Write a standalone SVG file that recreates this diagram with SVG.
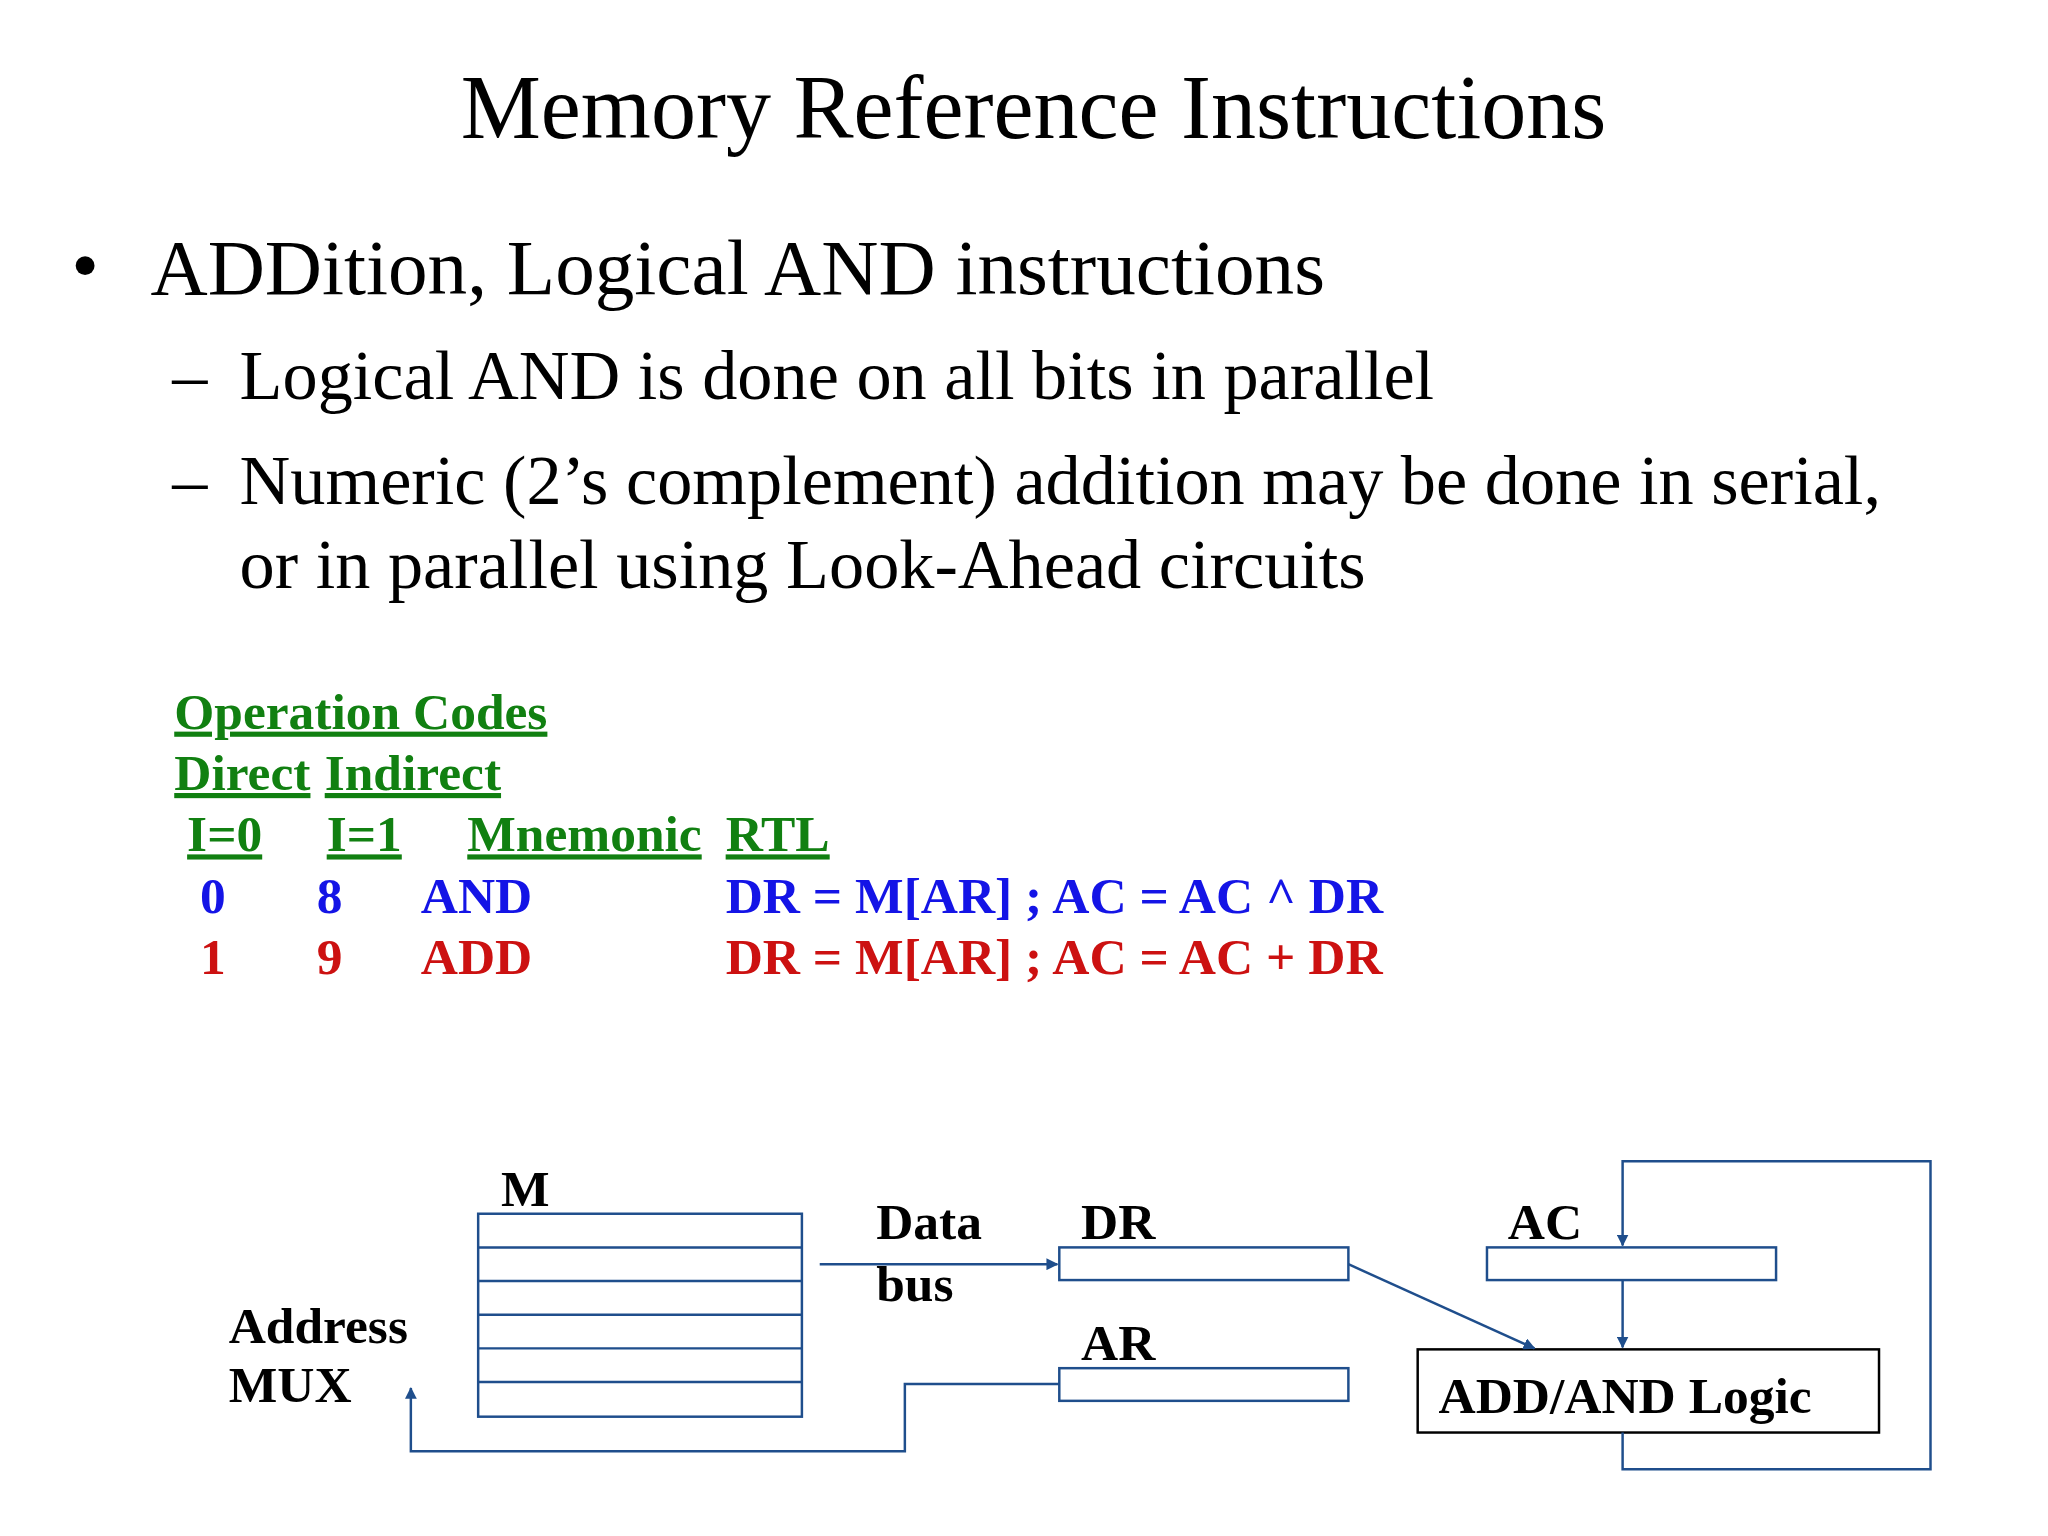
<svg xmlns="http://www.w3.org/2000/svg" width="2048" height="1536" viewBox="0 0 2048 1536">
<defs>
<marker id="ah" markerWidth="12" markerHeight="12" refX="11" refY="6" orient="auto" markerUnits="userSpaceOnUse"><path d="M0,0 L12,6 L0,12 z" fill="#1f4e8c"/></marker>
<style>
text{font-family:"Liberation Serif","Times New Roman",serif;}
.b{font-weight:bold;font-size:52px;}
.g{fill:#118011;text-decoration:underline;}
.bl{fill:#1414e6;}
.rd{fill:#cc1111;}
.k{fill:#000;}
.reg{fill:#fff;stroke:#1f4e8c;stroke-width:2.5;}
.ln{fill:none;stroke:#1f4e8c;stroke-width:2.5;}
</style>
</defs>
<rect width="2048" height="1536" fill="#fff"/>
<g transform="scale(0.99)">
<text x="1044" y="139" font-size="91" text-anchor="middle">Memory Reference Instructions</text>
<text x="72" y="295" font-size="80">•</text>
<text x="152" y="297" font-size="80">ADDition, Logical AND instructions</text>
<text x="174" y="403" font-size="71">–</text>
<text x="242" y="403" font-size="71">Logical AND is done on all bits in parallel</text>
<text x="174" y="509" font-size="71">–</text>
<text x="242" y="509" font-size="71">Numeric (2’s complement) addition may be done in serial,</text>
<text x="242" y="594" font-size="71">or in parallel using Look-Ahead circuits</text>
<g id="table">
<text class="b g" x="176" y="736">Operation Codes</text>
<text class="b g" x="176" y="798">Direct</text>
<text class="b g" x="328" y="798">Indirect</text>
<text class="b g" x="189" y="860">I=0</text>
<text class="b g" x="330" y="860">I=1</text>
<text class="b g" x="472" y="860">Mnemonic</text>
<text class="b g" x="733" y="860">RTL </text>
<text class="b bl" x="202" y="922">0</text>
<text class="b bl" x="320" y="922">8</text>
<text class="b bl" x="425" y="922">AND</text>
<text class="b bl" x="733" y="922">DR = M[AR] ; AC = AC ^ DR</text>
<text class="b rd" x="202" y="984">1</text>
<text class="b rd" x="320" y="984">9</text>
<text class="b rd" x="425" y="984">ADD</text>
<text class="b rd" x="733" y="984">DR = M[AR] ; AC = AC + DR</text>
</g>
<g id="M">
<text class="b k" x="506" y="1218">M</text>
<rect class="reg" x="483" y="1226" width="327" height="205"/>
<path class="ln" d="M483,1260H810M483,1294H810M483,1328H810M483,1362H810M483,1396H810"/>
</g>
<g id="databus"><text class="b k" x="885" y="1252">Data</text><text class="b k" x="885" y="1314">bus</text></g>
<g id="DR"><text class="b k" x="1092" y="1252">DR</text><rect class="reg" x="1070" y="1260" width="292" height="33"/></g>
<g id="AR"><text class="b k" x="1092" y="1374">AR</text><rect class="reg" x="1070" y="1382" width="292" height="33"/></g>
<g id="AC"><text class="b k" x="1523" y="1252">AC</text><rect class="reg" x="1502" y="1260" width="292" height="33"/></g>
<g id="logic"><rect x="1432" y="1363" width="466" height="84" fill="#fff" stroke="#000" stroke-width="2.5"/><text class="b k" x="1453" y="1427">ADD/AND Logic</text></g>
<g id="mux"><text class="b k" x="231" y="1357">Address</text><text class="b k" x="231" y="1416">MUX</text></g>
<g id="connectors">
<path class="ln" d="M828,1277H1068" marker-end="url(#ah)"/>
<path class="ln" d="M1362,1277L1550,1362" marker-end="url(#ah)"/>
<path class="ln" d="M1639,1293V1361" marker-end="url(#ah)"/>
<path class="ln" d="M1639,1447V1484H1950V1173H1639V1258" marker-end="url(#ah)"/>
<path class="ln" d="M1070,1398H914V1466H415V1402" marker-end="url(#ah)"/>
</g>
</g>
</svg>
